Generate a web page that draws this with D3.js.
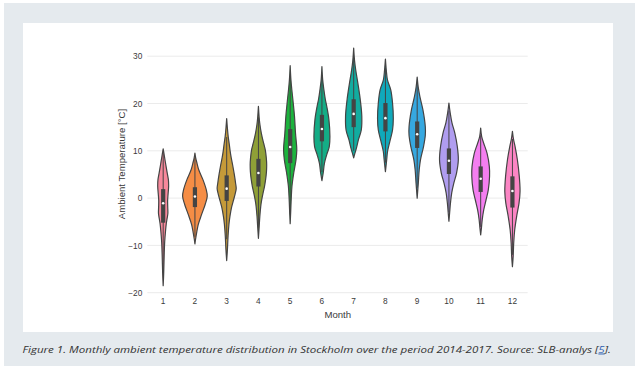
<!DOCTYPE html>
<html>
<head>
<meta charset="utf-8">
<script src="https://cdn.jsdelivr.net/npm/d3@7"></script>
<style>
  html, body { margin: 0; padding: 0; background: #ffffff; }
  svg { display: block; }
</style>
</head>
<body>
<svg id="chart" width="635" height="369"></svg>
<script>
// ---------------- DATA ----------------
const months = ["1","2","3","4","5","6","7","8","9","10","11","12"];
const colors = ["#f7889b","#f58d45","#c59a39","#8fa037","#1cb33d","#14ad86",
                "#12aca0","#10a9bb","#36a8e0","#b09df0","#f47ef0","#fb85c4"];
const yTicks = [-20, -10, 0, 10, 20, 30];

// quartiles & whiskers per month (°C)
const q1      = [-5.2, -1.9, -0.6, 2.45,  7.4, 12.0, 15.0, 14.1, 10.6,  5.1,  1.3, -2.0];
const medians = [-1.1, 0.35,  2.0,  5.3, 10.8, 14.6, 17.8, 16.9, 13.5,  7.9,  4.1,  1.5];
const q3      = [ 1.9,  2.3,  4.8,  8.3, 14.6, 17.6, 20.9, 20.1, 16.2, 10.5,  6.7,  4.6];
const whiskLo = [-15.8, -8.2, -8.7, -6.3, -3.4, 5.5, 10.0,  7.5,  2.2, -3.0, -6.1, -12.0];
const whiskHi = [ 9.5,  8.5, 12.9, 17.1, 25.4, 26.0, 29.7, 27.5, 24.4, 18.5, 13.3, 12.5];

// kernel density profiles: [temperature, relative density]
const dens1  = [[10.4,0],[8.8,0.1],[7.0,0.21],[5.3,0.32],[3.9,0.41],[2.5,0.43],[1,0.39],[-0.5,0.35],[-2,0.36],[-3.2,0.37],[-4.3,0.31],[-5.5,0.24],[-7.1,0.18],[-9.2,0.12],[-12,0.08],[-16,0.04],[-18.5,0]];
const dens2  = [[9.5,0],[8.5,0.06],[7.4,0.16],[6,0.3],[3.9,0.63],[1.8,0.89],[0.4,0.97],[-1.4,0.8],[-3.5,0.52],[-5.6,0.26],[-7.4,0.13],[-8.7,0.05],[-9.7,0]];
const dens3  = [[16.8,0],[15,0.05],[13,0.12],[11.5,0.2],[10,0.27],[8.5,0.36],[7,0.47],[5,0.6],[3.2,0.7],[2,0.75],[0.8,0.66],[-0.6,0.52],[-2,0.38],[-3.8,0.26],[-5.5,0.18],[-8,0.11],[-10.8,0.06],[-13.2,0]];
const dens4  = [[19.4,0],[17,0.06],[15.5,0.12],[13.7,0.23],[11.6,0.41],[10.2,0.54],[8.5,0.62],[7,0.65],[5.5,0.63],[4,0.57],[2.5,0.48],[1,0.36],[-0.5,0.25],[-1.8,0.18],[-3.9,0.11],[-6,0.06],[-8.5,0]];
const dens5  = [[28,0],[25,0.06],[22.9,0.13],[20.1,0.24],[17.3,0.34],[13.7,0.42],[10.2,0.52],[8.1,0.46],[5.3,0.28],[2.5,0.14],[-0.3,0.08],[-3,0.04],[-5.4,0]];
const dens6  = [[27.8,0],[25,0.06],[23,0.15],[21,0.26],[19.4,0.38],[16.6,0.55],[13,0.63],[10.9,0.58],[9.2,0.38],[7.4,0.2],[5.3,0.1],[3.7,0]];
const dens7  = [[31.7,0],[29,0.07],[27.1,0.16],[24.3,0.33],[20.8,0.52],[17.3,0.64],[14.4,0.6],[12.3,0.37],[10.5,0.21],[9.5,0.1],[8.5,0]];
const dens8  = [[29.4,0],[27,0.07],[25,0.16],[22.9,0.42],[20.1,0.56],[16.9,0.62],[14.4,0.56],[12,0.35],[9.9,0.17],[8.1,0.1],[5.6,0]];
const dens9  = [[25.6,0],[23.5,0.08],[21.5,0.21],[18.7,0.45],[15.1,0.64],[13.3,0.64],[10.9,0.5],[8.1,0.26],[6,0.16],[3.2,0.09],[0,0]];
const dens10 = [[20.1,0],[18,0.1],[15.9,0.24],[13.7,0.47],[10.9,0.66],[8.1,0.74],[5.3,0.6],[3.2,0.39],[1.1,0.22],[-1.1,0.12],[-3,0.06],[-4.9,0]];
const dens11 = [[14.8,0],[13,0.08],[11.6,0.24],[9.5,0.5],[6.7,0.68],[4.6,0.7],[1.75,0.6],[-0.4,0.42],[-2.5,0.24],[-4.6,0.12],[-6.3,0.06],[-7.8,0]];
const dens12 = [[14.1,0],[12.5,0.08],[10.9,0.21],[8.1,0.39],[4.6,0.54],[1.4,0.6],[-1.06,0.52],[-3.9,0.33],[-6.7,0.18],[-9.5,0.1],[-12.3,0.06],[-14.5,0]];
const densities = [dens1,dens2,dens3,dens4,dens5,dens6,dens7,dens8,dens9,dens10,dens11,dens12];

const xLabel = "Month";
const yLabel = "Ambient Temperature [°C]";
const captionMain = "Figure 1. Monthly ambient temperature distribution in Stockholm over the period 2014-2017. Source: SLB-analys [";
const captionRef = "5";
const captionEnd = "].";

// ---------------- DRAW ----------------
const svg = d3.select("#chart");

// page frame
svg.append("rect").attr("x", 4).attr("y", 3).attr("width", 631).attr("height", 363).attr("fill", "#e5eaee");
svg.append("rect").attr("x", 23).attr("y", 23).attr("width", 590).attr("height", 309).attr("fill", "#ffffff");

const x = d3.scaleBand().domain(months).range([147.3, 528.3]).padding(0);
const y = d3.scaleLinear().domain([-20, 30]).range([292.7, 56.2]);
const w = d3.scaleLinear().domain([0, 1]).range([0, x.bandwidth() * 0.4]);

// grid
svg.append("g").selectAll("line").data(yTicks).join("line")
  .attr("x1", 147.3).attr("x2", 527.7)
  .attr("y1", d => y(d)).attr("y2", d => y(d))
  .attr("stroke", "#ebebeb").attr("stroke-width", 1);

// y axis (no domain line)
const yAxis = svg.append("g").attr("transform", "translate(147.3,0)")
  .call(d3.axisLeft(y).tickValues(yTicks).tickSize(0).tickPadding(5));
yAxis.select(".domain").remove();
yAxis.selectAll("text").attr("font-family", "Liberation Sans, Arial, sans-serif")
  .attr("font-size", 8.3).attr("fill", "#3a3a3a");

// x axis
const xAxis = svg.append("g").attr("transform", "translate(0,292.7)")
  .call(d3.axisBottom(x).tickSize(0).tickPadding(5));
xAxis.select(".domain").remove();
xAxis.selectAll("text").attr("font-family", "Liberation Sans, Arial, sans-serif")
  .attr("font-size", 8.3).attr("fill", "#3a3a3a");

// axis titles
svg.append("text").attr("x", (147.3 + 528.3) / 2).attr("y", 318)
  .attr("text-anchor", "middle").attr("font-family", "Liberation Sans, Arial, sans-serif")
  .attr("font-size", 9.6).attr("fill", "#3a3a3a").text(xLabel);
svg.append("text").attr("transform", "translate(125,164) rotate(-90)")
  .attr("text-anchor", "middle").attr("font-family", "Liberation Sans, Arial, sans-serif")
  .attr("font-size", 9.6).attr("fill", "#3a3a3a").text(yLabel);

// violins
const vg = svg.append("g");
months.forEach((m, i) => {
  const cx = x(m) + x.bandwidth() / 2;
  const area = d3.area()
    .y(d => y(d[0]))
    .x0(d => cx - w(d[1]))
    .x1(d => cx + w(d[1]))
    .curve(d3.curveCatmullRom.alpha(0.5));
  vg.append("path").datum(densities[i])
    .attr("d", area)
    .attr("fill", colors[i])
    .attr("stroke", "#444444")
    .attr("stroke-width", 1.2)
    .attr("stroke-linejoin", "round");
  // whisker
  vg.append("line").attr("x1", cx).attr("x2", cx)
    .attr("y1", y(whiskLo[i])).attr("y2", y(whiskHi[i]))
    .attr("stroke", "#444444").attr("stroke-width", 1);
  // box
  vg.append("rect").attr("x", cx - 2.1).attr("width", 4.2)
    .attr("y", y(q3[i])).attr("height", y(q1[i]) - y(q3[i]))
    .attr("fill", "#444444");
  // median
  vg.append("circle").attr("cx", cx).attr("cy", y(medians[i])).attr("r", 1.3)
    .attr("fill", "#ffffff");
});

// caption
const cap = svg.append("text").attr("x", 22.5).attr("y", 352.5)
  .attr("font-family", "'Open Sans', 'Noto Sans', sans-serif").attr("font-style", "italic")
  .attr("font-weight", 400)
  .attr("font-size", 9.4).attr("fill", "#333333")
  .attr("textLength", 588.5).attr("lengthAdjust", "spacingAndGlyphs");
cap.append("tspan").text(captionMain);
cap.append("tspan").attr("fill", "#2a5db0").attr("text-decoration", "underline").text(captionRef);
cap.append("tspan").text(captionEnd);
</script>
</body>
</html>
